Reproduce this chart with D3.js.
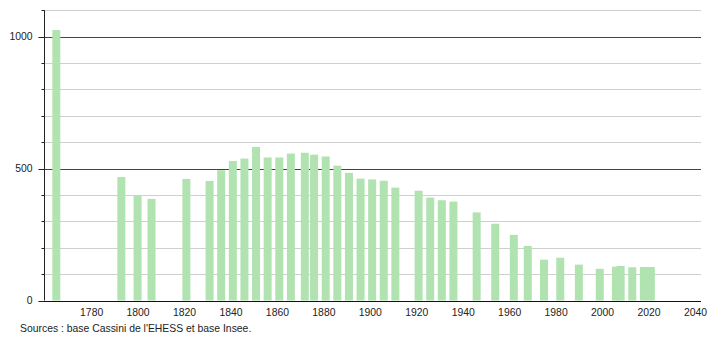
<!DOCTYPE html>
<html>
<head>
<meta charset="utf-8">
<script src="https://cdn.jsdelivr.net/npm/d3@7"></script>
<style>
  body { margin: 0; background: #fff; }
  svg { display: block; font-family: "Liberation Sans", Arial, sans-serif; }
</style>
</head>
<body>
<div id="chart"></div>
<script>
// census years and population
const years = [1765, 1793, 1800, 1806, 1821, 1831, 1836, 1841, 1846, 1851, 1856, 1861, 1866,
    1872, 1876, 1881, 1886, 1891, 1896, 1901, 1906, 1911, 1921, 1926, 1931, 1936, 1946, 1954,
    1962, 1968, 1975, 1982, 1990, 1999, 2006, 2008, 2013, 2018, 2021];
const population = [1025, 468, 398, 385, 461, 453, 494, 529, 538, 582, 542, 542, 557,
    560, 553, 546, 511, 484, 462, 459, 454, 428, 416, 390, 380, 375, 334, 291,
    249, 207, 155, 162, 136, 120, 128, 131, 126, 127, 127];
const xTicks = [1780, 1800, 1820, 1840, 1860, 1880, 1900, 1920, 1940, 1960, 1980, 2000, 2020, 2040];
const yTicks = [0, 100, 200, 300, 400, 500, 600, 700, 800, 900, 1000, 1100];
const yLabels = [0, 500, 1000];
const sourceText = "Sources : base Cassini de l'EHESS et base Insee.";

drawChart();

function drawChart() {
    const width = 710;
    const height = 340;

    const svg = d3.select('#chart')
        .append('svg')
        .attr('width', width)
        .attr('height', height);

    const x = d3.scaleLinear().domain([1759.7, 2042.6]).range([44, 701]);
    const y = d3.scaleLinear().domain([0, 1100]).range([300.5, 10.3]);

    const data = years.map((yr, i) => ({ year: yr, value: population[i] }));

    // grid lines, darker at 500 and 1000
    svg.append('g').attr('class', 'grid')
        .selectAll('line')
        .data(yTicks.filter(v => v > 0))
        .join('line')
        .attr('x1', 44)
        .attr('x2', 701)
        .attr('y1', d => Math.round(y(d)) + 0.5)
        .attr('y2', d => Math.round(y(d)) + 0.5)
        .attr('stroke', d => yLabels.includes(d) ? '#444' : '#cfcfcf')
        .attr('stroke-width', 1);

    // bars
    const barW = 8;
    svg.append('g').attr('class', 'bars')
        .selectAll('rect')
        .data(data)
        .join('rect')
        .attr('x', d => x(d.year) - barW / 2)
        .attr('y', d => y(d.value))
        .attr('width', barW)
        .attr('height', d => y(0) - y(d.value))
        .attr('fill', '#b1e3b1');

    // y axis with long ticks at the labelled values
    const yAxis = svg.append('g')
        .attr('transform', 'translate(44.5,0)');
    yAxis.append('line')
        .attr('x1', 0).attr('x2', 0)
        .attr('y1', y(1100)).attr('y2', y(0))
        .attr('stroke', '#222');
    yAxis.selectAll('line.tick')
        .data(yTicks)
        .join('line')
        .attr('class', 'tick')
        .attr('x1', d => yLabels.includes(d) ? -6 : -3)
        .attr('x2', 0)
        .attr('y1', d => Math.round(y(d)) + 0.5)
        .attr('y2', d => Math.round(y(d)) + 0.5)
        .attr('stroke', '#222');
    yAxis.selectAll('text')
        .data(yLabels)
        .join('text')
        .attr('x', -12)
        .attr('y', d => y(d) + 3.8)
        .attr('text-anchor', 'end')
        .attr('font-size', '10.4px')
        .attr('fill', '#222')
        .text(d => d);

    // x axis
    const xAxis = d3.axisBottom(x)
        .tickValues(xTicks)
        .tickSize(0)
        .tickPadding(7)
        .tickFormat(d3.format('d'));
    const gx = svg.append('g')
        .attr('transform', `translate(0,${Math.round(y(0)) + 0.5})`)
        .call(xAxis);
    gx.select('.domain').remove();
    gx.append('line')
        .attr('x1', 44).attr('x2', 701)
        .attr('stroke', '#111');
    gx.selectAll('text')
        .attr('font-size', '10.4px')
        .attr('font-family', '"Liberation Sans", Arial, sans-serif')
        .attr('fill', '#222');

    svg.append('text')
        .attr('x', 20)
        .attr('y', 332)
        .attr('font-size', '10.4px')
        .attr('fill', '#222')
        .text(sourceText);
}
</script>
</body>
</html>
